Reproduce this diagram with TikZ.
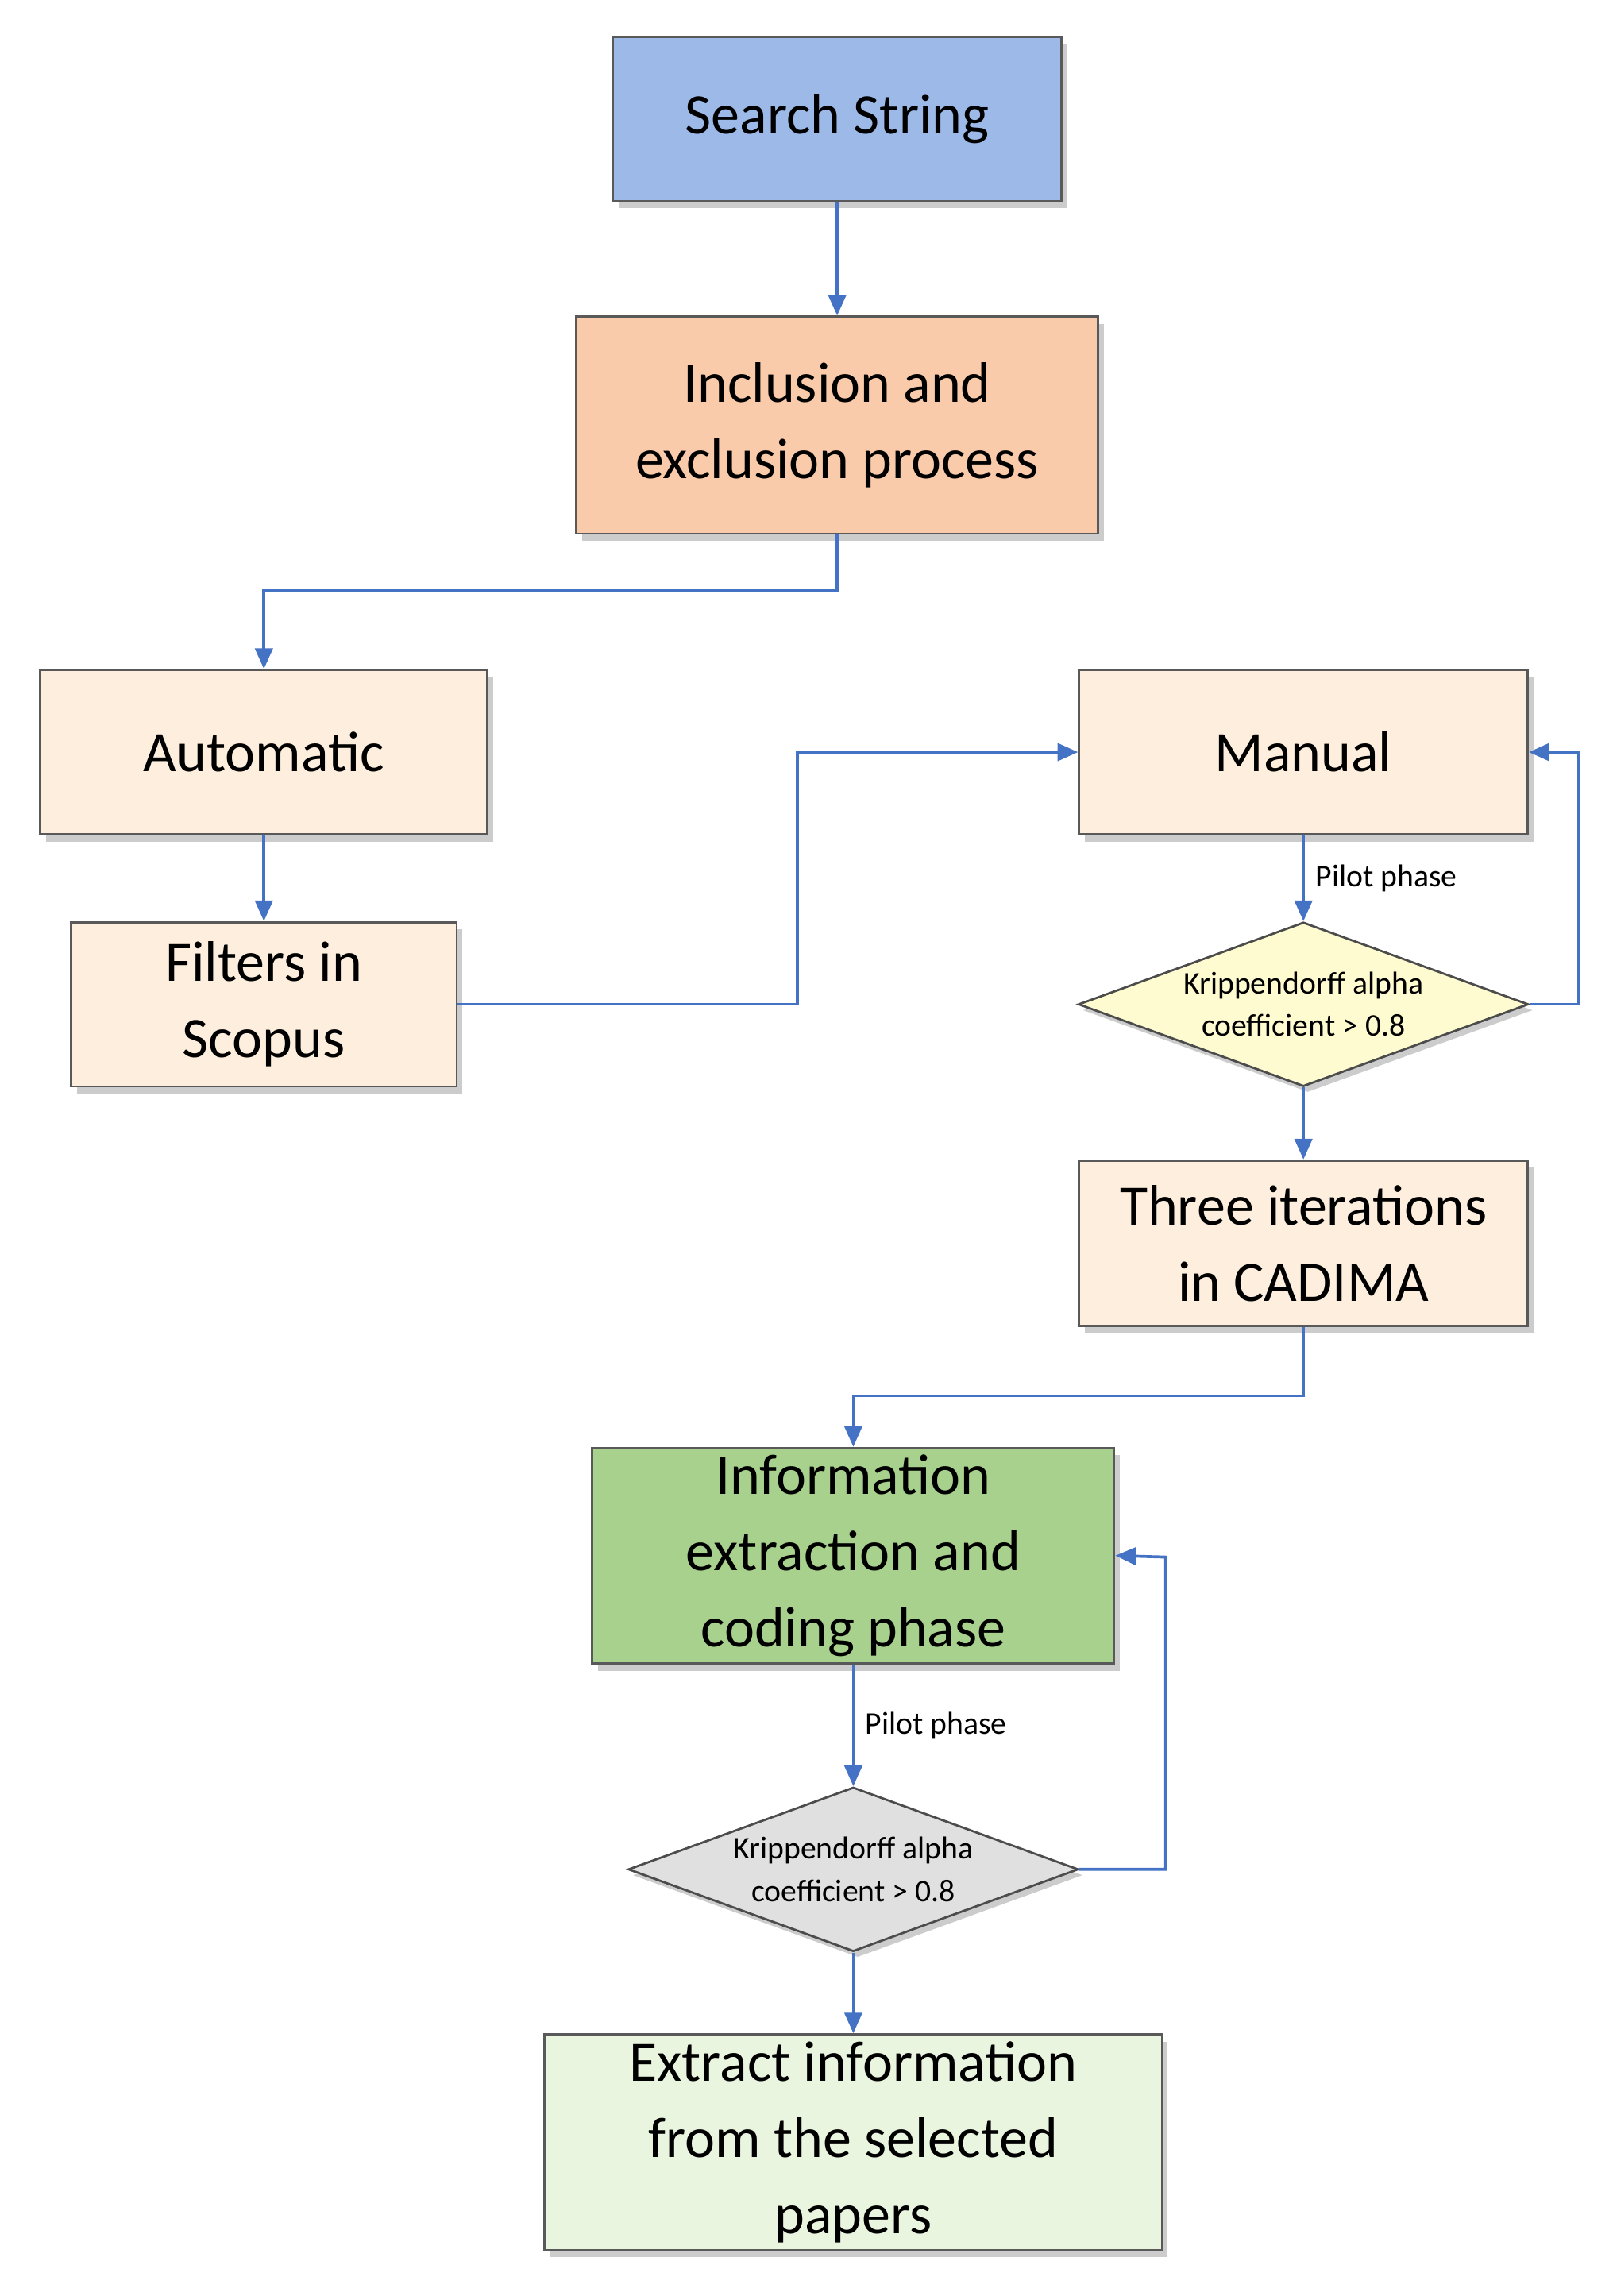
\documentclass[tikz,border=0pt]{standalone}
\usepackage{fontspec}
\setmainfont{Carlito}
\usetikzlibrary{shapes.geometric,shadows,arrows.meta}
\definecolor{lc}{HTML}{4472C4}
\definecolor{cblue}{HTML}{9DB9E8}
\definecolor{cpeach}{HTML}{F9CBAA}
\definecolor{clight}{HTML}{FDEEDD}
\definecolor{cgreen}{HTML}{A9D18E}
\definecolor{clgreen}{HTML}{EAF5E0}
\definecolor{cyel}{HTML}{FFFBD0}
\definecolor{cgray}{HTML}{E0E0E0}
\tikzset{
 box/.style={draw=gray!70!black, line width=1.5pt, inner sep=0pt, align=center,
   font=\fontsize{39}{52}\selectfont, drop shadow={shadow xshift=4pt,shadow yshift=-5pt,opacity=0.4}},
 dia/.style={diamond, aspect=2.75, draw=gray!60!black, line width=1.5pt, inner sep=0pt, align=center,
   font=\fontsize{21.5}{29}\selectfont, minimum width=307pt, minimum height=112pt,
   drop shadow={shadow xshift=3pt,shadow yshift=-4pt,opacity=0.4}},
 con/.style={lc, line width=2pt, -{Triangle[length=14pt,width=12pt]}},
 lab/.style={text=black, font=\fontsize{21.5}{24}\selectfont, anchor=west}
}
\begin{document}
\begin{tikzpicture}[x=1pt,y=-1pt]
\useasboundingbox (0,0) rectangle (1100,1566);
\node[box, fill=cblue, minimum width=306pt, minimum height=112pt] (s) at (571,81) {Search String};
\node[box, fill=cpeach, minimum width=356pt, minimum height=148pt] (inc) at (571,290) {Inclusion and\\exclusion process};
\node[box, fill=clight, minimum width=305pt, minimum height=112pt] (aut) at (180,513) {Automatic};
\node[box, fill=clight, minimum width=263pt, minimum height=112pt] (fil) at (180,685) {Filters in\\Scopus};
\node[box, fill=clight, minimum width=306pt, minimum height=112pt] (man) at (889,513) {Manual};
\node[dia, fill=cyel] (d1) at (889,685) {Krippendorff alpha\\coefficient > 0.8};
\node[box, fill=clight, minimum width=306pt, minimum height=113pt] (thr) at (889,848) {Three iterations\\in CADIMA};
\node[box, fill=cgreen, minimum width=356pt, minimum height=147pt] (inf) at (582,1061) {Information\\extraction and\\coding phase};
\node[dia, fill=cgray] (d2) at (582,1275) {Krippendorff alpha\\coefficient > 0.8};
\node[box, fill=clgreen, minimum width=421pt, minimum height=147pt] (ext) at (582,1461) {Extract information\\from the selected\\papers};
\coordinate (c1) at (571,403); \coordinate (c2) at (180,403);
\coordinate (c3) at (544,685); \coordinate (c4) at (544,513);
\coordinate (c5) at (1077,685); \coordinate (c6) at (1077,513);
\coordinate (c7) at (889,952); \coordinate (c8) at (582,952);
\coordinate (c9) at (795,1275); \coordinate (c10) at (795,1062);
\draw[con] (s) -- (inc);
\draw[con] (inc.south) -- (c1) -- (c2) -- (aut.north);
\draw[con] (aut) -- (fil);
\draw[con] (fil.east) -- (c3) -- (c4) -- (man.west);
\draw[con] (man) -- node[lab, pos=0.5, xshift=4pt]{Pilot phase} (d1.north);
\draw[con] (d1.east) -- (c5) -- (c6) -- (man.east);
\draw[con] (d1.south) -- (thr.north);
\draw[con] (thr.south) -- (c7) -- (c8) -- (inf.north);
\draw[con] (inf) -- node[lab, pos=0.5, xshift=4pt]{Pilot phase} (d2.north);
\draw[con] (d2.east) -- (c9) -- (c10) -- (inf.east);
\draw[con] (d2.south) -- (ext.north);
\end{tikzpicture}
\end{document}
